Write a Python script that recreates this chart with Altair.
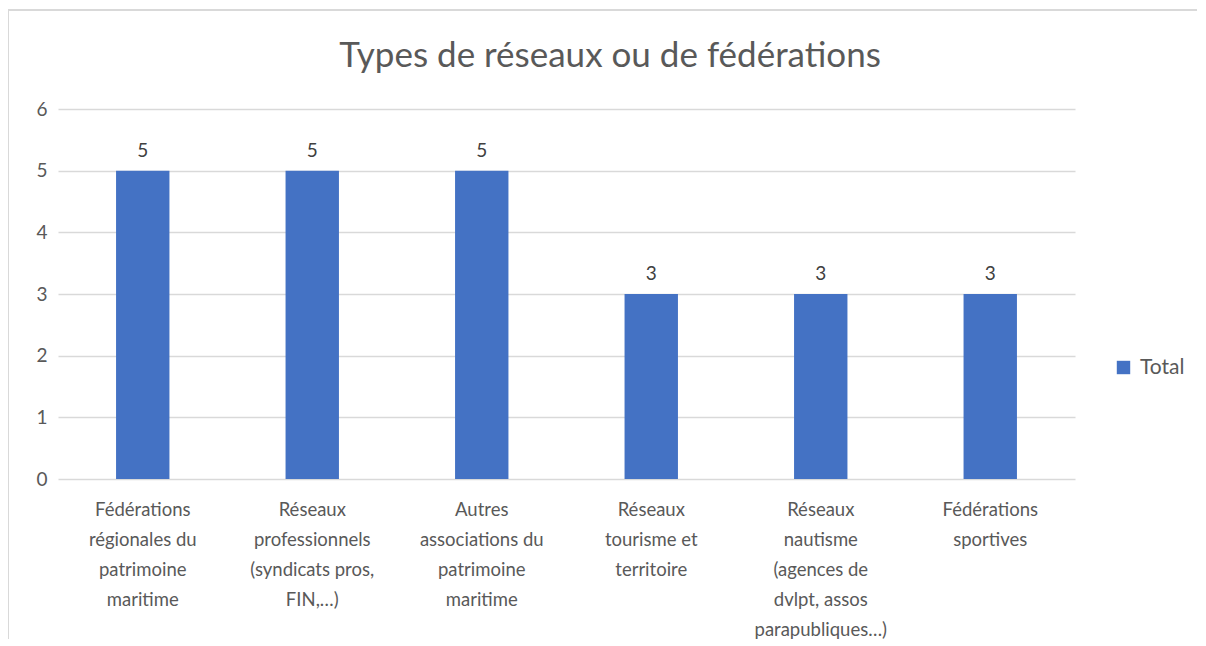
import altair as alt
import pandas as pd

categories = [
    "Fédérations|régionales du|patrimoine|maritime",
    "Réseaux|professionnels|(syndicats pros,|FIN,…)",
    "Autres|associations du|patrimoine|maritime",
    "Réseaux|tourisme et|territoire",
    "Réseaux|nautisme|(agences de|dvlpt, assos|parapubliques…)",
    "Fédérations|sportives",
]
values = [5, 5, 5, 3, 3, 3]
series = ["Total"] * 6
title_text = ["Types de réseaux ou de fédérations"]

df = pd.DataFrame({"cat": categories, "val": values, "series": series})
tdf = pd.DataFrame({"t": title_text})

FONT = "Lato"
GREY = "#595959"

x = alt.X("cat:N", sort=None, title=None,
          scale=alt.Scale(paddingInner=0.685, paddingOuter=0.3425),
          axis=alt.Axis(labelExpr="split(datum.label, '|')", labelAngle=0,
                        labelFontSize=18.5, labelFont=FONT, labelColor=GREY,
                        labelLineHeight=30, labelPadding=21, labelBaseline="top",
                        ticks=False, domain=False, grid=False, labelLimit=300))
y = alt.Y("val:Q", title=None,
          scale=alt.Scale(domain=[0, 6]),
          axis=alt.Axis(values=[0, 1, 2, 3, 4, 5, 6], format="d", labelFontSize=19,
                        labelFont=FONT, labelColor=GREY, labelPadding=11, ticks=False,
                        domain=False, gridColor="#d9d9d9", gridWidth=1.5))

bars = alt.Chart(df).mark_bar(color="#4472C4").encode(
    x=x, y=y,
    color=alt.Color("series:N", title=None,
                    scale=alt.Scale(range=["#4472C4"]),
                    legend=alt.Legend(orient="none", legendX=1055, legendY=248,
                                      symbolType="square", symbolSize=180,
                                      symbolStrokeWidth=0,
                                      labelFontSize=21, labelFont=FONT,
                                      labelColor=GREY, labelOffset=6)),
)

labels = alt.Chart(df).mark_text(dy=-20, fontSize=19, font=FONT, color="#404040").encode(
    x=alt.X("cat:N", sort=None), y="val:Q", text="val:Q")

title = alt.Chart(tdf).mark_text(fontSize=35, font=FONT, color=GREY,
                                 baseline="middle", align="center").encode(
    x=alt.value(552), y=alt.value(-53), text="t:N")

border = alt.Chart(df).mark_rect(fill=None, stroke="#d9d9d9", strokeWidth=2).encode(
    x=alt.value(-50), x2=alt.value(1146), y=alt.value(-99), y2=alt.value(700))

chart = alt.layer(border, bars, labels, title).properties(
    width=1017, height=370,
    autosize=alt.AutoSizeParams(type="none"),
    padding={"left": 50, "top": 101, "right": 122, "bottom": 160},
).configure_view(stroke=None)

chart.save("out.html", embed_options={"renderer": "svg", "actions": False})
